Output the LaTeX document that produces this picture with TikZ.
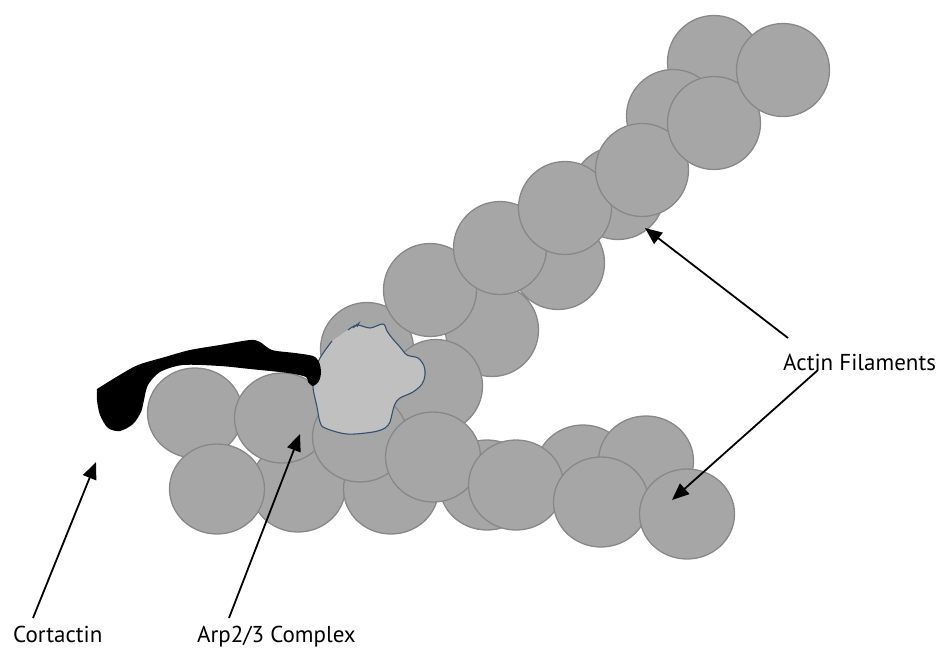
\documentclass[tikz,border=0pt]{standalone}
\usepackage{fontspec}
\setmainfont{PT Sans}
\usetikzlibrary{shapes.geometric,arrows.meta}
\definecolor{beadfill}{HTML}{A6A6A6}
\definecolor{beadline}{HTML}{888888}
\definecolor{arpfill}{HTML}{C0C0C0}
\definecolor{arpline}{HTML}{34506E}
\tikzset{
  bead/.style={circle, draw=beadline, fill=beadfill, line width=1.3pt,
    minimum size=93pt, inner sep=0pt},
  lbead/.style={ellipse, draw=beadline, fill=beadfill, line width=1.3pt,
    minimum width=95pt, minimum height=90pt, inner sep=0pt},
  lbl/.style={font=\fontsize{23}{27}\selectfont, inner sep=0pt, anchor=base west},
  pointer/.style={line width=1.8pt, -{Triangle[length=17pt,width=14pt]}},
}
\begin{document}
\begin{tikzpicture}[x=1pt,y=-1pt]
\useasboundingbox (0,0) rectangle (937,648);

% upper filament, rear strand
\node[bead] (ua1) at (714,62) {};
\node[bead] (ua2) at (673,116) {};
\node[bead] (ua3) at (618,193) {};
\node[bead] (ua4) at (558,263) {};
\node[bead] (ua5) at (492,330) {};
\node[bead] (ua6) at (367,349) {};
% upper filament, front strand
\node[bead] (ub1) at (430,290) {};
\node[bead] (ub2) at (500,248) {};
\node[bead] (ub3) at (565,208) {};
\node[bead] (ub4) at (642,170) {};
\node[bead] (ub5) at (714,123) {};
\node[bead] (ub6) at (783,70) {};
\node[bead] (ub7) at (436,386) {};

% lower filament, rear beads
\node[lbead] (la1) at (298,487) {};
\node[lbead] (la2) at (391,489) {};
\node[lbead] (la3) at (195,413) {};
\node[lbead] (la4) at (217,489) {};
\node[lbead] (la5) at (282,418) {};
\node[lbead] (la6) at (360,437) {};

% Arp2/3 complex sitting on the branch point
\fill[arpfill] plot[smooth, tension=0.55] coordinates {
  (332,341) (348,330) (357,325) (370,328) (383,324) (387,331) (392,338)
  (400,347) (407,355) (418,358) (424,366) (425,375) (422,384) (413,392)
  (400,398) (395,404) (392,414) (390,422) (385,428) (373,432) (347,434)
  (325,428) (320,422) (317,407) (313,387) (315,372) (320,358) (332,341)} -- cycle;
\draw[arpline, line width=1.1pt, line join=round] plot[smooth, tension=0.55] coordinates {
  (348,330) (357,325) (370,328) (383,324) (387,331) (392,338)
  (400,347) (407,355) (418,358) (424,366) (425,375) (422,384) (413,392)
  (400,398) (395,404) (392,414) (390,422) (385,428) (373,432) (347,434)
  (325,428) (320,422) (317,407) (313,387) (315,372) (320,358) (332,341)};
\draw[arpline, line width=1.0pt] (353,328) -- (359,323) -- (357,327);

% lower filament, front beads
\node[lbead] (lb1) at (487,485) {};
\node[lbead] (lb2) at (433,457) {};
\node[lbead] (lb3) at (583,470) {};
\node[lbead] (lb4) at (516,485) {};
\node[lbead] (lb5) at (646,461) {};
\node[lbead] (lb6) at (601,502) {};
\node[lbead] (lb7) at (687,514) {};

% cortactin strand
\fill[black] plot[smooth, tension=0.5] coordinates {
  (97,389) (118,376) (138,365) (165,357) (190,350) (220,345) (250,340)
  (260,342) (272,350) (295,353) (313,356) (319,362) (321,372) (319,381)
  (313,386) (308,382) (306,377) (288,373) (250,369) (220,366) (183,365)
  (160,372) (148,385) (144,400) (141,412) (133,424) (120,431) (108,428)
  (100,415) (97,400) (97,389)} -- cycle;

% labels
\node[lbl] (actin) at (783,370) {Actin Filaments};
\node[lbl] (cort) at (13,642) {Cortactin};
\node[lbl] (arp) at (197,642) {Arp2/3 Complex};

% pointer ends
\coordinate (actinTailA) at (788,338);
\coordinate (actinTailB) at (818,370);
\coordinate (cortTail) at (33,618);
\coordinate (arpTail) at (229,618);
\coordinate (actinTipA) at (645,228);
\coordinate (actinTipB) at (672,500);
\coordinate (cortTip) at (96,462);
\coordinate (arpTip) at (300,434);

\draw[pointer] (actinTailA) -- (actinTipA);
\draw[pointer] (actinTailB) -- (actinTipB);
\draw[pointer] (cortTail) -- (cortTip);
\draw[pointer] (arpTail) -- (arpTip);
\end{tikzpicture}
\end{document}
